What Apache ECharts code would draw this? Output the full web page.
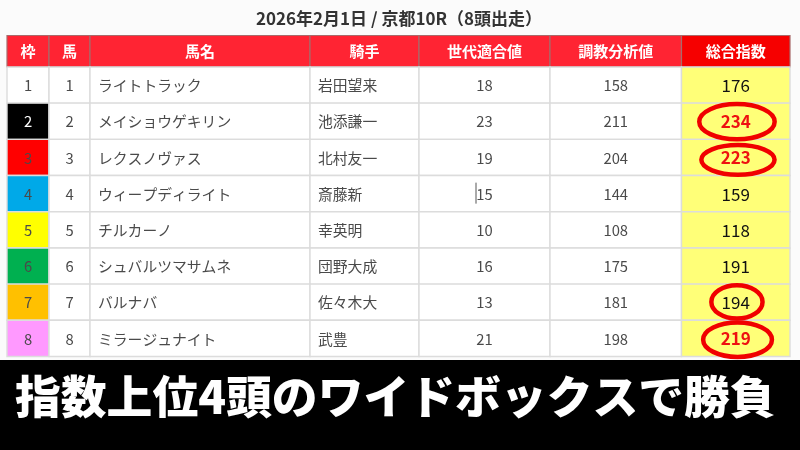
<!DOCTYPE html>
<html>
<head>
<meta charset="utf-8">
<style>html,body{margin:0;padding:0;background:#fbfbfb}#main{width:800px;height:450px}</style>
<script src="https://cdn.jsdelivr.net/npm/echarts@6/dist/echarts.min.js"></script>
</head>
<body>
<div id="main"></div>
<script>
var titleText = '2026年2月1日 / 京都10R（8頭出走）';
var bannerText = '指数上位4頭のワイドボックスで勝負';
var headers = ['枠', '馬', '馬名', '騎手', '世代適合値', '調教分析値', '総合指数'];
var frames = ['1', '2', '3', '4', '5', '6', '7', '8'];
var numbers = ['1', '2', '3', '4', '5', '6', '7', '8'];
var horseNames = ['ライトトラック', 'メイショウゲキリン', 'レクスノヴァス', 'ウィープディライト', 'チルカーノ', 'シュバルツマサムネ', 'バルナバ', 'ミラージュナイト'];
var jockeys = ['岩田望来', '池添謙一', '北村友一', '斎藤新', '幸英明', '団野大成', '佐々木大', '武豊'];
var generationValues = [18, 23, 19, 15, 10, 16, 13, 21];
var trainingValues = [158, 211, 204, 144, 108, 175, 181, 198];
var totalIndex = [176, 234, 223, 159, 118, 191, 194, 219];
// rows that get the red ring
var circledRows = [1, 2, 6, 7];

// layout, in axis units (x = px from table left, y = rows)
var colEdges = [0, 42, 83, 303, 412, 543, 674.5, 783];
var frameColors = ['#ffffff', '#000000', '#ff0000', '#00a9e8', '#ffff00', '#00b050', '#ffc000', '#ff99ff'];
// hand drawn rings: rx, ry, dx, dy in px
var ringShape = { 1: [37.7, 17.6, 1.2, 0.4], 2: [36.6, 14.9, 2.2, 2.4], 6: [25.6, 16.6, 1.2, -0.3], 7: [34.4, 17.2, 1.8, 1.3] };
var font = '"Noto Sans CJK JP"';

var chart = echarts.init(document.getElementById('main'));

var cells = [];
headers.forEach(function (h, c) { cells.push([c, -1, h]); });
frames.forEach(function (f, r) {
  cells.push([0, r, f]);
  cells.push([1, r, numbers[r]]);
  cells.push([2, r, horseNames[r]]);
  cells.push([3, r, jockeys[r]]);
  cells.push([4, r, generationValues[r]]);
  cells.push([5, r, trainingValues[r]]);
  cells.push([6, r, totalIndex[r]]);
});

function renderCell(params, api) {
  var c = api.value(0), r = api.value(1), label = cells[params.dataIndex][2];
  var head = r < 0;
  var p0 = api.coord([colEdges[c], head ? -0.87 : r]);
  var p1 = api.coord([colEdges[c + 1], head ? 0 : r + 1]);
  var fill = '#ffffff', color = '#4a4a4a', size = 14.8, weight = 400;
  if (head) {
    fill = c === 6 ? '#f60000' : '#ff2433';
    color = '#ffffff';
    size = 15;
    weight = 700;
  } else if (c === 0) {
    fill = frameColors[r];
    if (r === 1) color = '#ffffff';
  } else if (c === 6) {
    fill = '#ffff78';
    size = 17;
    color = '#111111';
    if (label >= 200) { color = '#ee1111'; weight = 700; }
  }
  var left = !head && (c === 2 || c === 3);
  var kids = [{
    type: 'rect',
    shape: { x: p0[0], y: p0[1], width: p1[0] - p0[0], height: p1[1] - p0[1] },
    style: { fill: fill, stroke: head ? '#a86a6a' : '#dcdcdc', lineWidth: head ? 1.2 : 1.4 }
  }, {
    type: 'text',
    style: {
      text: String(label),
      x: left ? p0[0] + 8 : (p0[0] + p1[0]) / 2,
      y: (p0[1] + p1[1]) / 2 + 0.5,
      align: left ? 'left' : 'center',
      verticalAlign: 'middle',
      fill: color,
      font: weight + ' ' + size + 'px ' + font
    },
    z2: 5
  }];
  // text cursor left in the picture, row 4 of the generation column
  if (c === 4 && r === 3) {
    var m = api.coord([(colEdges[4] + colEdges[5]) / 2 - 8.5, r + 0.5]);
    kids.push({
      type: 'line',
      shape: { x1: m[0], y1: m[1] - 11, x2: m[0], y2: m[1] + 10 },
      style: { stroke: '#555555', lineWidth: 1 },
      z2: 6
    });
  }
  return { type: 'group', children: kids };
}

function renderRing(params, api) {
  var r = circledRows[params.dataIndex];
  var m = api.coord([(colEdges[6] + colEdges[7]) / 2, r + 0.5]);
  var s = ringShape[r];
  return {
    type: 'ellipse',
    shape: { cx: m[0] + s[2], cy: m[1] + s[3], rx: s[0], ry: s[1] },
    style: { fill: 'none', stroke: '#f00000', lineWidth: 4.5 },
    z2: 10
  };
}

chart.setOption({
  animation: false,
  backgroundColor: '#fbfbfb',
  title: {
    text: titleText,
    left: 394,
    top: 5,
    textAlign: 'center',
    textStyle: { fontFamily: font, fontSize: 17, fontWeight: 700, color: '#333333' }
  },
  grid: { left: 7, right: 10, top: 35.5, bottom: 93.5 },
  xAxis: { type: 'value', min: 0, max: 783, show: false },
  yAxis: { type: 'value', min: -0.87, max: 8, inverse: true, show: false },
  series: [
    {
      type: 'custom',
      silent: true,
      coordinateSystem: 'cartesian2d',
      renderItem: renderCell,
      data: cells.map(function (d) { return [d[0], d[1]]; }),
      z: 2
    },
    {
      type: 'custom',
      silent: true,
      coordinateSystem: 'cartesian2d',
      renderItem: renderRing,
      data: circledRows.map(function (r) { return [6, r]; }),
      clip: false,
      z: 3
    }
  ],
  graphic: [
    { type: 'rect', left: 0, top: 360, shape: { width: 800, height: 90 }, style: { fill: '#000000' }, z: 5 },
    {
      type: 'text', left: 15, top: 374, z: 6,
      style: { text: bannerText, fill: '#ffffff', font: '900 45.8px ' + font }
    }
  ]
});
</script>
</body>
</html>
